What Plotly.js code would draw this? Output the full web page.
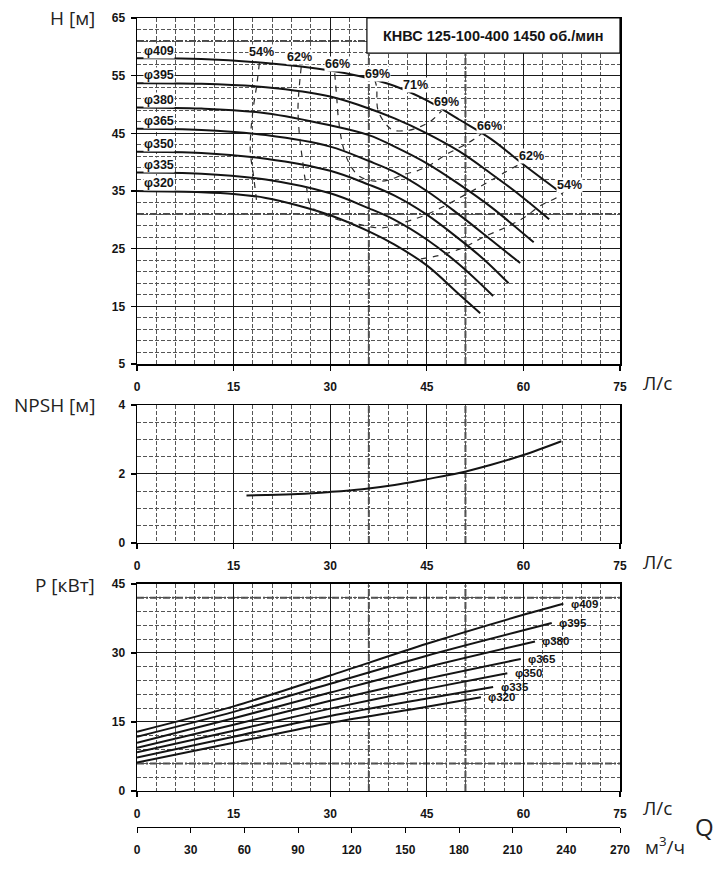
<!DOCTYPE html>
<html>
<head>
<meta charset="utf-8">
<script src="https://cdn.plot.ly/plotly-3.0.1.min.js"></script>
<style>
  html, body { margin: 0; padding: 0; background: #fff; }
  #chart { width: 726px; height: 883px; }
</style>
</head>
<body>
<div id="chart"></div>
<script>
// impeller diameters, mm
var diameters = ['409', '395', '380', '365', '350', '335', '320'];

// head curves H(Q): Q in l/s, H in m
var q409 = [0, 10, 20, 30, 35, 40, 45, 50, 55, 60, 65.6];
var h409 = [58.0, 57.9, 57.2, 55.9, 54.8, 53.2, 50.7, 47.4, 44.0, 39.6, 34.9];
var q395 = [0, 10, 20, 30, 35, 40, 45, 50, 55, 60, 64.0];
var h395 = [53.7, 53.6, 53.0, 51.4, 49.7, 47.6, 45.0, 41.9, 38.0, 33.8, 30.1];
var q380 = [0, 10, 20, 30, 36, 40, 45, 50, 55, 61.6];
var h380 = [49.5, 49.3, 48.5, 46.4, 44.7, 42.7, 39.8, 36.2, 32.2, 26.1];
var q365 = [0, 10, 20, 30, 36, 40, 45, 50, 55, 59.5];
var h365 = [45.8, 45.6, 44.7, 42.7, 40.2, 38.3, 35.0, 30.9, 26.5, 22.5];
var q350 = [0, 10, 20, 30, 36, 40, 45, 50, 54, 57.7];
var h350 = [41.8, 41.6, 40.6, 38.5, 36.1, 34.2, 30.9, 26.7, 23.0, 19.0];
var q335 = [0, 10, 20, 30, 36, 40, 45, 50, 55.3];
var h335 = [38.2, 38.0, 37.0, 34.6, 32.0, 30.0, 26.6, 22.3, 16.8];
var q320 = [0, 10, 15, 20, 25, 30, 36, 40, 45, 50, 53.3];
var h320 = [35.0, 34.8, 34.5, 33.8, 32.5, 30.8, 28.0, 25.7, 22.1, 17.1, 13.8];

// efficiency iso-lines on the H(Q) field
var eff54aQ = [19.0, 18.6, 18.1, 17.7, 17.6, 18.1, 18.6];
var eff54aH = [57.2, 53.4, 49.8, 45.6, 41.8, 37.6, 33.0];
var eff54bQ = [66.5, 65.4, 62.7, 60.0, 57.4, 53.8, 50.7, 46.8, 43.8];
var eff54bH = [35.2, 34.0, 32.5, 30.3, 28.8, 27.0, 25.2, 23.8, 23.2];
var eff62Q = [25.5, 25.2, 25.0, 25.2, 25.6, 26.3, 27.1, 30.5, 34.5, 38.0, 41.5, 44.5, 47.6, 50.7, 53.8, 56.9, 59.5];
var eff62H = [56.5, 53.1, 49.4, 45.0, 41.2, 35.8, 32.3, 30.3, 29.2, 28.6, 29.6, 30.7, 32.3, 34.2, 36.1, 38.1, 39.7];
var eff66Q = [30.7, 31.0, 31.3, 32.0, 33.1, 34.6, 37.0, 39.0, 41.5, 43.5, 45.5, 47.8, 49.5, 51.5, 53.6];
var eff66H = [55.4, 51.4, 47.3, 42.7, 39.5, 37.5, 36.7, 36.9, 37.9, 38.5, 39.5, 41.2, 42.2, 43.4, 45.0];
var eff69Q = [36.9, 37.2, 37.4, 38.5, 39.7, 42.1, 44.1, 45.7, 47.3];
var eff69H = [54.3, 53.1, 49.1, 46.8, 45.6, 45.5, 46.2, 47.2, 48.9];

// NPSH required
var npshQ = [17, 20, 25, 30, 35, 40, 45, 50, 55, 60, 65.9];
var npshH = [1.38, 1.39, 1.42, 1.48, 1.56, 1.68, 1.85, 2.03, 2.27, 2.55, 2.95];

// shaft power P(Q), kW
var pq409 = [0, 15, 30, 45, 60, 66.2];
var p409 = [12.9, 18.4, 25.1, 32.0, 38.3, 40.7];
var pq395 = [0, 15, 30, 45, 64.4];
var p395 = [11.8, 17.2, 23.3, 29.4, 36.5];
var pq380 = [0, 15, 30, 45, 61.8];
var p380 = [10.5, 15.8, 21.4, 26.9, 32.5];
var pq365 = [0, 15, 30, 45, 59.6];
var p365 = [9.4, 14.4, 19.6, 24.4, 28.7];
var pq350 = [0, 15, 30, 45, 57.5];
var p350 = [8.4, 13.1, 17.9, 22.2, 25.6];
var pq335 = [0, 15, 30, 45, 55.3];
var p335 = [7.3, 11.8, 16.3, 20.1, 22.6];
var pq320 = [0, 15, 30, 45, 53.4];
var p320 = [6.2, 10.5, 14.8, 18.3, 20.4];

var qTicks = [0, 15, 30, 45, 60, 75];
var m3hTicks = [0, 30, 60, 90, 120, 150, 180, 210, 240, 270];

var headQ = [q409, q395, q380, q365, q350, q335, q320];
var headH = [h409, h395, h380, h365, h350, h335, h320];
var powQ = [pq409, pq395, pq380, pq365, pq350, pq335, pq320];
var powP = [p409, p395, p380, p365, p350, p335, p320];

var ink = '#141414';
var boldFont = {family: 'Liberation Sans, Arial, sans-serif', size: 12, color: ink, weight: 'bold'};
var labelFont = {family: 'Liberation Sans, Arial, sans-serif', size: 12.5, color: ink, weight: 'bold'};
var powLabelFont = {family: 'Liberation Sans, Arial, sans-serif', size: 11.5, color: ink, weight: 'bold'};
var titleFont = {family: 'Open Sans, Noto Sans, sans-serif', size: 19, color: '#222'};

var traces = [];
var annotations = [];

for (var i = 0; i < diameters.length; i++) {
    traces.push({x: headQ[i], y: headH[i], xaxis: 'x', yaxis: 'y', mode: 'lines',
        line: {color: ink, width: 2, shape: 'spline', smoothing: 1}, hoverinfo: 'skip'});
    traces.push({x: powQ[i], y: powP[i], xaxis: 'x3', yaxis: 'y3', mode: 'lines',
        line: {color: ink, width: 2, shape: 'spline', smoothing: 0.8}, hoverinfo: 'skip'});

    annotations.push({xref: 'x', yref: 'y', x: 0.9, y: headH[i][0] + 1.35, text: '\u03c6' + diameters[i],
        showarrow: false, xanchor: 'left', yanchor: 'middle', font: labelFont, bgcolor: '#fff', borderpad: 0});
    var last = powQ[i].length - 1;
    annotations.push({xref: 'x3', yref: 'y3', x: powQ[i][last] + 1.0, y: powP[i][last], text: '\u03c6' + diameters[i],
        showarrow: false, xanchor: 'left', yanchor: 'middle', font: powLabelFont, borderpad: 0});
}

var effLines = [[eff54aQ, eff54aH], [eff54bQ, eff54bH], [eff62Q, eff62H], [eff66Q, eff66H], [eff69Q, eff69H]];
effLines.forEach(function (e) {
    traces.push({x: e[0], y: e[1], xaxis: 'x', yaxis: 'y', mode: 'lines',
        line: {color: '#2a2a2a', width: 1.2, dash: '6px,6px', shape: 'spline', smoothing: 1}, hoverinfo: 'skip'});
});

var effLabels = [
    ['54%', 19.4, 59.1], ['62%', 25.3, 58.2], ['66%', 31.2, 57.0], ['69%', 37.4, 55.3], ['71%', 43.2, 53.4],
    ['69%', 48.0, 50.4], ['66%', 54.8, 46.3], ['62%', 61.2, 41.1], ['54%', 67.2, 36.1]
];
effLabels.forEach(function (l) {
    annotations.push({xref: 'x', yref: 'y', x: l[1], y: l[2], text: l[0], showarrow: false,
        font: labelFont, bgcolor: '#fff', borderpad: 0});
});

traces.push({x: npshQ, y: npshH, xaxis: 'x2', yaxis: 'y2', mode: 'lines',
    line: {color: ink, width: 2, shape: 'spline', smoothing: 1}, hoverinfo: 'skip'});

// empty trace so the m3/h scale gets drawn
traces.push({x: [0, 270], y: [null, null], xaxis: 'x4', yaxis: 'y3', mode: 'lines', hoverinfo: 'skip'});

function qAxis(anchor) {
    return {
        anchor: anchor, domain: [0, 1], range: [0, 75], tickvals: qTicks,
        showgrid: true, gridcolor: '#1a1a1a', gridwidth: 1,
        minor: {dtick: 3, tick0: 0, showgrid: true, gridcolor: '#555', gridwidth: 1, griddash: '4px,2px'},
        showline: true, mirror: true, linecolor: '#000', linewidth: 1.5,
        ticks: 'outside', ticklen: 5, tickcolor: '#000', tickwidth: 1.2,
        tickfont: boldFont, ticklabelstandoff: 6, zeroline: false, fixedrange: true
    };
}
function valAxis(anchor, domain, range, dtick, minor) {
    return {
        anchor: anchor, domain: domain, range: range, dtick: dtick, tick0: range[0],
        showgrid: true, gridcolor: '#1a1a1a', gridwidth: 1,
        minor: {dtick: minor, tick0: range[0], showgrid: true, gridcolor: '#555', gridwidth: 1, griddash: '4px,2px'},
        showline: true, mirror: true, linecolor: '#000', linewidth: 1.5,
        ticks: 'outside', ticklen: 5, tickcolor: '#000', tickwidth: 1.2,
        tickfont: boldFont, ticklabelstandoff: 3, zeroline: false, fixedrange: true
    };
}

var heavy = {color: '#4a4a4a', width: 2, dash: '7px,2px,2px,2px'};
var shapes = [];
[['x', 'y', 5, 65], ['x2', 'y2', 0, 4], ['x3', 'y3', 0, 45]].forEach(function (s) {
    [36, 51].forEach(function (q) {
        shapes.push({type: 'line', xref: s[0], yref: s[1], x0: q, x1: q, y0: s[2], y1: s[3], line: heavy, layer: 'below'});
    });
});
[31, 61].forEach(function (h) {
    shapes.push({type: 'line', xref: 'x', yref: 'y', x0: 0, x1: 75, y0: h, y1: h, line: heavy, layer: 'below'});
});
[6, 42].forEach(function (p) {
    shapes.push({type: 'line', xref: 'x3', yref: 'y3', x0: 0, x1: 75, y0: p, y1: p, line: heavy, layer: 'below'});
});
// title box
shapes.push({type: 'rect', xref: 'x', yref: 'y', x0: 35.7, x1: 75, y0: 58.9, y1: 65,
    fillcolor: '#fff', line: {color: '#000', width: 1.2}, layer: 'above'});
annotations.push({xref: 'x', yref: 'y', x: 55.35, y: 61.95, showarrow: false,
    text: 'КНВС 125-100-400 1450 об./мин',
    font: {family: 'Liberation Sans, Arial, sans-serif', size: 14.5, color: ink, weight: 'bold'}});

// axis captions
function paperX(px) { return (px - 137) / 483; }
function paperY(py) { return (827 - py) / 809; }
[['H [м]', 97, 18], ['NPSH [м]', 97, 405], ['P [кВт]', 97, 585]].forEach(function (t) {
    annotations.push({xref: 'paper', yref: 'paper', x: paperX(t[1]), y: paperY(t[2]), text: t[0],
        showarrow: false, xanchor: 'right', yanchor: 'middle', font: titleFont});
});
[[641, 383], [641, 562], [641, 808]].forEach(function (t) {
    annotations.push({xref: 'paper', yref: 'paper', x: paperX(t[0]), y: paperY(t[1]), text: 'Л/с',
        showarrow: false, xanchor: 'left', yanchor: 'middle', font: titleFont});
});
annotations.push({xref: 'paper', yref: 'paper', x: paperX(643), y: paperY(846), text: 'м<sup>3</sup>/ч',
    showarrow: false, xanchor: 'left', yanchor: 'middle', font: titleFont});
annotations.push({xref: 'paper', yref: 'paper', x: paperX(693), y: paperY(826), text: 'Q',
    showarrow: false, xanchor: 'left', yanchor: 'middle', font: {family: 'Open Sans, Noto Sans, sans-serif', size: 24, color: '#222'}});

var layout = {
    width: 726, height: 883, autosize: false,
    margin: {l: 137, r: 106, t: 18, b: 56},
    paper_bgcolor: '#fff', plot_bgcolor: '#fff',
    showlegend: false,
    xaxis: qAxis('y'),
    yaxis: valAxis('x', [0.5723, 1], [5, 65], 10, 2),
    xaxis2: qAxis('y2'),
    yaxis2: valAxis('x2', [0.3511, 0.5216], [0, 4], 2, 0.5),
    xaxis3: qAxis('y3'),
    yaxis3: valAxis('x3', [0.0445, 0.3004], [0, 45], 15, 3),
    xaxis4: {
        overlaying: 'x3', anchor: 'free', position: 0, side: 'bottom', range: [0, 270], tickvals: m3hTicks,
        showgrid: false, zeroline: false, showline: true, linecolor: '#000', linewidth: 1.2,
        ticks: 'outside', ticklen: 5, tickcolor: '#000', tickfont: boldFont, ticklabelstandoff: 6, fixedrange: true
    },
    shapes: shapes,
    annotations: annotations
};

Plotly.newPlot('chart', traces, layout, {displaylogo: false, displayModeBar: false, staticPlot: true});
</script>
</body>
</html>
